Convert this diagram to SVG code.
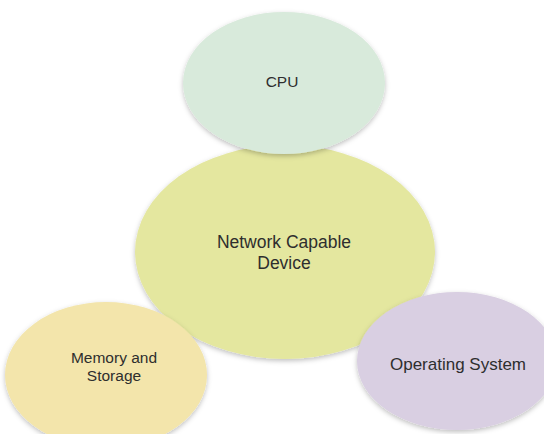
<svg xmlns="http://www.w3.org/2000/svg" width="544" height="434" viewBox="0 0 544 434">
<defs>
<filter id="sh" x="-20%" y="-20%" width="140%" height="140%">
<feDropShadow dx="0" dy="2" stdDeviation="2.5" flood-color="#000" flood-opacity="0.25"/>
</filter>
</defs>
<style>
.t{font-family:"Liberation Sans",Arial,sans-serif;fill:#2e2e2e;text-anchor:middle}
</style>
<rect width="544" height="434" fill="#fff"/>
<g id="connectors"/>
<g id="network">
<ellipse cx="285" cy="252" rx="150" ry="107" fill="#e4e79f" filter="url(#sh)"/>
<text class="t" x="284" y="248" font-size="17.5">Network Capable</text>
<text class="t" x="284" y="269" font-size="17.5">Device</text>
</g>
<g id="cpu">
<ellipse cx="284" cy="83" rx="101" ry="71" fill="#d8eadb" filter="url(#sh)"/>
<text class="t" x="282" y="87" font-size="15.5">CPU</text>
</g>
<g id="memory">
<ellipse cx="106" cy="375" rx="101" ry="73" fill="#f3e5ab" filter="url(#sh)"/>
<text class="t" x="114" y="363" font-size="15.5">Memory and</text>
<text class="t" x="114" y="381" font-size="15.5">Storage</text>
</g>
<g id="os">
<ellipse cx="457" cy="361" rx="100" ry="69" fill="#d9cfe2" filter="url(#sh)"/>
<text class="t" x="458" y="370" font-size="17">Operating System</text>
</g>
</svg>
